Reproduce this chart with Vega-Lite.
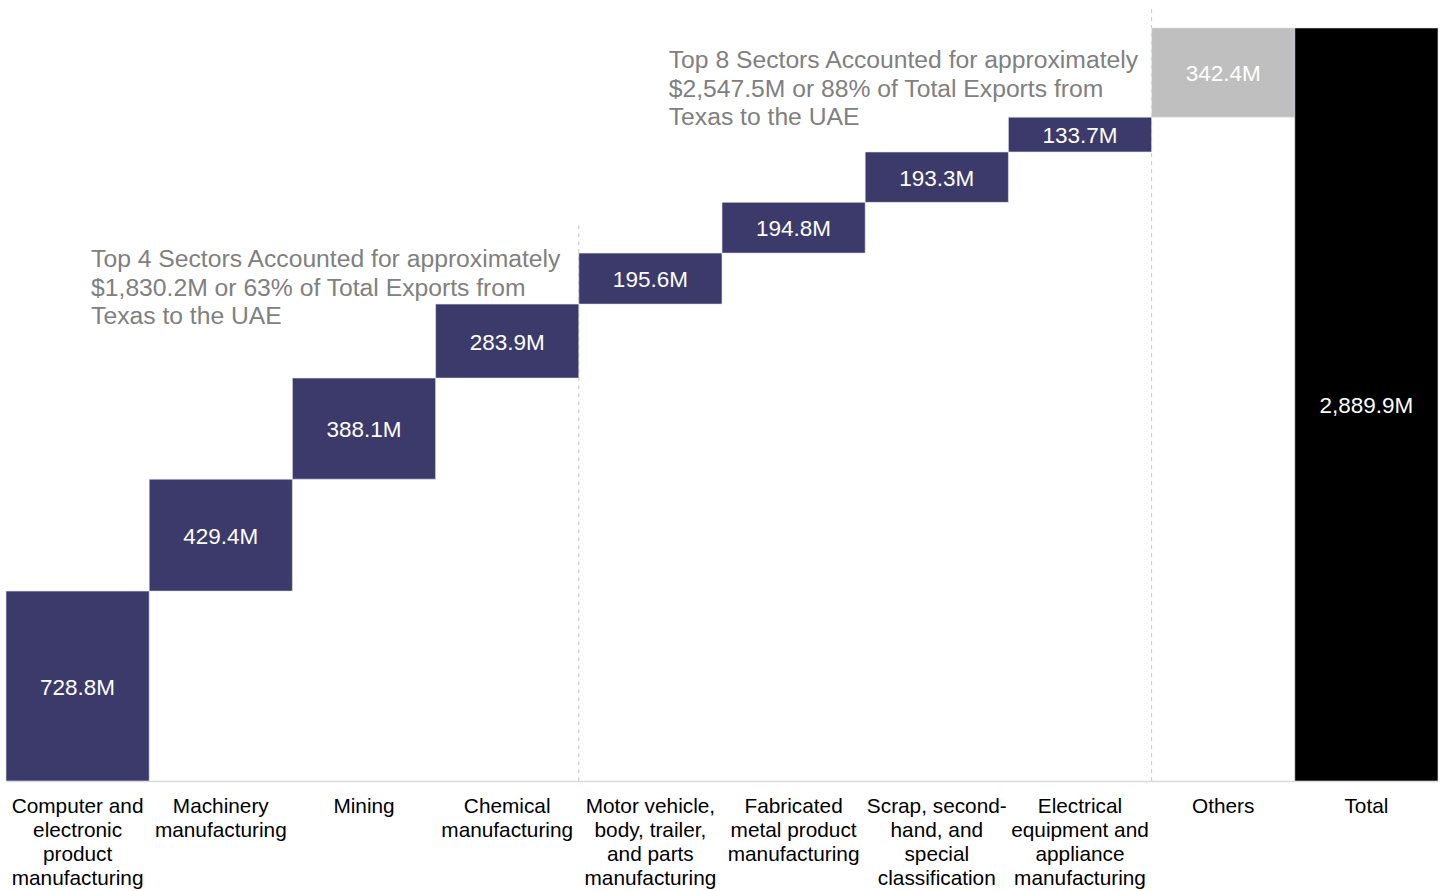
{
  "$schema": "https://vega.github.io/schema/vega-lite/v6.json",
  "width": 1432,
  "height": 776,
  "autosize": {"type": "none"},
  "padding": {"left": 6, "top": 5, "right": 5, "bottom": 110},
  "background": "white",
  "config": {"view": {"stroke": null}, "font": "Liberation Sans"},
  "datasets": {
    "bars": [
      {"sector": "Computer and|electronic|product|manufacturing", "start": 0, "end": 728.8, "label": "728.8M", "kind": "sector"},
      {"sector": "Machinery|manufacturing", "start": 728.8, "end": 1158.2, "label": "429.4M", "kind": "sector"},
      {"sector": "Mining", "start": 1158.2, "end": 1546.3, "label": "388.1M", "kind": "sector"},
      {"sector": "Chemical|manufacturing", "start": 1546.3, "end": 1830.2, "label": "283.9M", "kind": "sector"},
      {"sector": "Motor vehicle,|body, trailer,|and parts|manufacturing", "start": 1830.2, "end": 2025.8, "label": "195.6M", "kind": "sector"},
      {"sector": "Fabricated|metal product|manufacturing", "start": 2025.8, "end": 2220.6, "label": "194.8M", "kind": "sector"},
      {"sector": "Scrap, second-|hand, and|special|classification", "start": 2220.6, "end": 2413.9, "label": "193.3M", "kind": "sector"},
      {"sector": "Electrical|equipment and|appliance|manufacturing", "start": 2413.9, "end": 2547.5, "label": "133.7M", "kind": "sector"},
      {"sector": "Others", "start": 2547.5, "end": 2889.9, "label": "342.4M", "kind": "others"},
      {"sector": "Total", "start": 0, "end": 2889.9, "label": "2,889.9M", "kind": "total"}
    ],
    "rules": [
      {"sector": "Motor vehicle,|body, trailer,|and parts|manufacturing", "y1": 0, "y2": 2134},
      {"sector": "Others", "y1": 0, "y2": 2975}
    ],
    "notes": [
      {"sector": "Computer and|electronic|product|manufacturing", "y": 1971, "id": 1, "text": ["Top 4 Sectors Accounted for approximately", "$1,830.2M or 63% of Total Exports from", "Texas to the UAE"]},
      {"sector": "Motor vehicle,|body, trailer,|and parts|manufacturing", "y": 2735, "id": 2, "text": ["Top 8 Sectors Accounted for approximately", "$2,547.5M or 88% of Total Exports from", "Texas to the UAE"]}
    ]
  },
  "encoding": {
    "x": {
      "field": "sector",
      "type": "nominal",
      "sort": null,
      "scale": {
        "domain": [
          "Computer and|electronic|product|manufacturing",
          "Machinery|manufacturing",
          "Mining",
          "Chemical|manufacturing",
          "Motor vehicle,|body, trailer,|and parts|manufacturing",
          "Fabricated|metal product|manufacturing",
          "Scrap, second-|hand, and|special|classification",
          "Electrical|equipment and|appliance|manufacturing",
          "Others",
          "Total"
        ],
        "paddingInner": 0,
        "paddingOuter": 0
      },
      "axis": {
        "title": null,
        "labelAngle": 0,
        "ticks": false,
        "domainColor": "#d9d9d9",
        "domainWidth": 1.5,
        "labelFontSize": 20.8,
        "labelColor": "#000000",
        "labelLineHeight": 24,
        "labelPadding": 15,
        "labelLimit": 300,
        "labelOverlap": false,
        "labelExpr": "split(datum.value, '|')"
      }
    }
  },
  "layer": [
    {
      "data": {"name": "rules"},
      "mark": {"type": "rule", "color": "#c8c8c8", "strokeWidth": 1, "strokeDash": [4, 4]},
      "encoding": {
        "x": {"field": "sector", "type": "nominal", "bandPosition": 0},
        "y": {"field": "y1", "type": "quantitative", "scale": {"domain": [0, 2978]}, "axis": null},
        "y2": {"field": "y2"}
      }
    },
    {
      "data": {"name": "bars"},
      "mark": {"type": "bar", "stroke": "#e4e4ee", "strokeWidth": 0.6},
      "encoding": {
        "y": {"field": "start", "type": "quantitative", "scale": {"domain": [0, 2978]}, "axis": null},
        "y2": {"field": "end"},
        "color": {
          "field": "kind",
          "type": "nominal",
          "scale": {"domain": ["sector", "others", "total"], "range": ["#3c3a6b", "#bfbfbf", "#000000"]},
          "legend": null
        }
      }
    },
    {
      "data": {"name": "bars"},
      "transform": [{"calculate": "(datum.start + datum.end) / 2", "as": "mid"}],
      "mark": {"type": "text", "color": "white", "fontSize": 22.5, "baseline": "middle", "align": "center", "dy": 1.5},
      "encoding": {
        "y": {"field": "mid", "type": "quantitative", "scale": {"domain": [0, 2978]}, "axis": null},
        "text": {"field": "label"}
      }
    },
    {
      "data": {"name": "notes"},
      "transform": [{"filter": "datum.id == 1"}],
      "mark": {"type": "text", "color": "#808080", "fontSize": 24.7, "lineHeight": 28.3, "align": "left", "baseline": "alphabetic"},
      "encoding": {
        "x": {"field": "sector", "type": "nominal", "bandPosition": 0.594},
        "y": {"field": "y", "type": "quantitative", "scale": {"domain": [0, 2978]}, "axis": null},
        "text": {"field": "text"}
      }
    },
    {
      "data": {"name": "notes"},
      "transform": [{"filter": "datum.id == 2"}],
      "mark": {"type": "text", "color": "#808080", "fontSize": 24.7, "lineHeight": 28.3, "align": "left", "baseline": "alphabetic"},
      "encoding": {
        "x": {"field": "sector", "type": "nominal", "bandPosition": 0.628},
        "y": {"field": "y", "type": "quantitative", "scale": {"domain": [0, 2978]}, "axis": null},
        "text": {"field": "text"}
      }
    }
  ]
}
